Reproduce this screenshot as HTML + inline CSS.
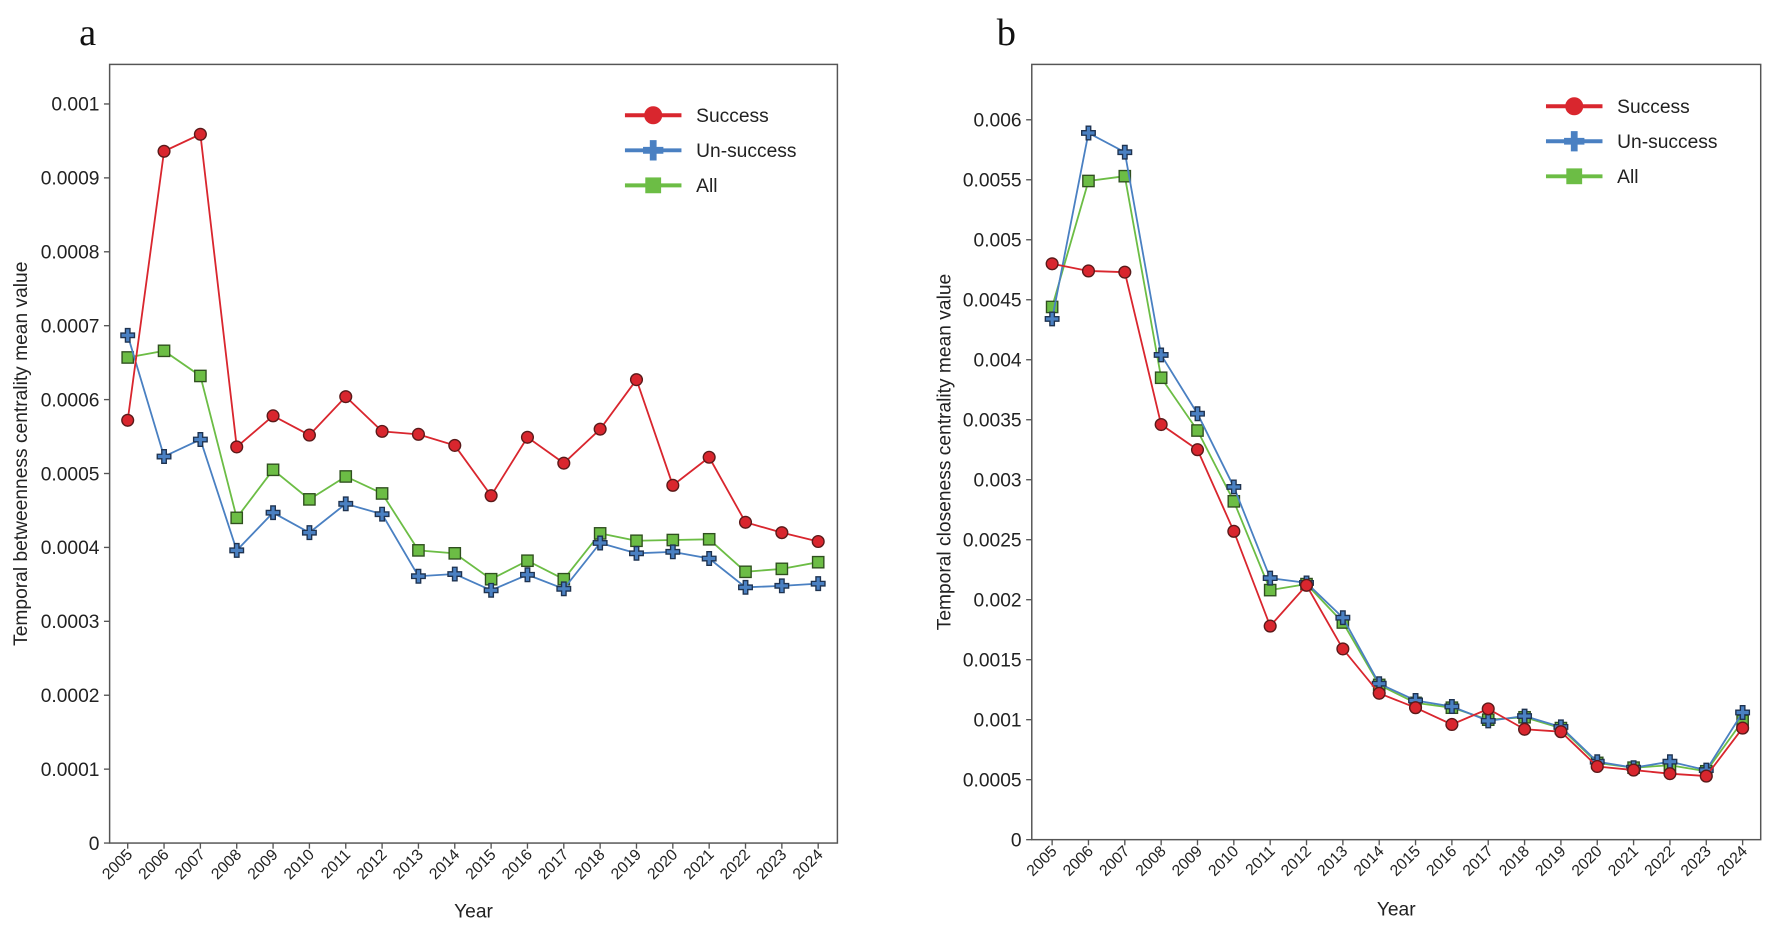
<!DOCTYPE html>
<html><head><meta charset="utf-8"><style>
html,body{margin:0;padding:0;background:#fff;}
svg{display:block;font-family:"Liberation Sans",Arial,sans-serif;}
</style></head><body>
<svg id="chart" width="1772" height="926" viewBox="0 0 1568 819.4" preserveAspectRatio="none" xmlns="http://www.w3.org/2000/svg"></svg>
<script>
const years=[2005,2006,2007,2008,2009,2010,2011,2012,2013,2014,2015,2016,2017,2018,2019,2020,2021,2022,2023,2024];
const aSuccess=[.000572,.000936,.000959,.000536,.000578,.000552,.000604,.000557,.000553,.000538,.000470,.000549,.000514,.000560,.000627,.000484,.000522,.000434,.000420,.000408];
const aUnsuccess=[.000687,.000523,.000546,.000396,.000447,.000420,.000459,.000445,.000361,.000364,.000342,.000363,.000344,.000406,.000392,.000394,.000385,.000346,.000348,.000351];
const aAll=[.000657,.000666,.000632,.000440,.000505,.000465,.000496,.000473,.000396,.000392,.000357,.000382,.000357,.000419,.000409,.000410,.000411,.000367,.000371,.000380];
const bSuccess=[0.0048,0.00474,0.00473,0.00346,0.00325,0.00257,0.00178,0.00212,0.00159,0.00122,0.0011,0.00096,0.00109,0.00092,0.0009,0.00061,0.00058,0.00055,0.00053,0.00093];
const bUnsuccess=[0.00434,0.00589,0.00573,0.00404,0.00355,0.00294,0.00218,0.00214,0.00185,0.0013,0.00116,0.00111,0.00099,0.00103,0.00094,0.00065,0.0006,0.00065,0.00058,0.00106];
const bAll=[0.00444,0.00549,0.00553,0.00385,0.00341,0.00282,0.00208,0.00213,0.00181,0.00129,0.00114,0.0011,0.001,0.00102,0.00093,0.00064,0.0006,0.00062,0.00057,0.00099];
const aTicks=["0","0.0001","0.0002","0.0003","0.0004","0.0005","0.0006","0.0007","0.0008","0.0009","0.001"];
const bTicks=["0","0.0005","0.001","0.0015","0.002","0.0025","0.003","0.0035","0.004","0.0045","0.005","0.0055","0.006"];
const legendLabels=["Success","Un-success","All"];

const svg=document.getElementById('chart');
const NS='http://www.w3.org/2000/svg';
function mk(tag,attrs,parent,text){const e=document.createElementNS(NS,tag);for(const k in attrs)e.setAttribute(k,attrs[k]);if(text!==undefined)e.textContent=text;(parent||svg).appendChild(e);return e;}
const RED='#d9262e',BLUE='#4a80c2',GREEN='#6cbd45';

function marker(g,type,x,y,color){
  let m;
  if(type==='circle'){m=mk('circle',{cx:x,cy:y,r:5.2,fill:color,stroke:'#5a1a1a','stroke-width':1.2},g);}
  else if(type==='square'){m=mk('rect',{x:x-5,y:y-5,width:10,height:10,fill:color,stroke:'#2f4f1f','stroke-width':1.2},g);}
  else {m=mk('path',{d:`M${x-2},${y-6}h4v4h4v4h-4v4h-4v-4h-4v-4h4z`,fill:color,stroke:'#1f3350','stroke-width':1.2},g);}
  return m;
}

function panel(cfg){
  const g=mk('g',{});
  
  
  const {L,R,T,B,x0,x1,ymax}=cfg;
  const xs=i=>x0+(x1-x0)*i/(years.length-1);
  const ys=v=>B-(B-cfg.y0)*v/ymax;
  const frame=mk('rect',{x:L,y:T,width:R-L,height:B-T,fill:'none',stroke:'#555','stroke-width':1.3},g);
  
  
  cfg.ticks.forEach((t,i)=>{
    const y=ys(parseFloat(t));
    mk('line',{x1:L-5,x2:L,y1:y,y2:y,stroke:'#555','stroke-width':1.2},g);
    const tl=mk('text',{x:L-9,y:y+6,'text-anchor':'end','font-size':17,fill:'#222'},g,t);
    
    
  });
  years.forEach((yr,i)=>{
    const x=xs(i);
    mk('line',{x1:x,x2:x,y1:B,y2:B+5,stroke:'#555','stroke-width':1.2},g);
    const tl=mk('text',{x:x+5,y:B+11,'text-anchor':'end','font-size':14,fill:'#222',transform:`rotate(-45 ${x+5} ${B+11})`},g,String(yr));
    
    
  });
  const xt=mk('text',{x:(L+R)/2,y:cfg.xTitleY,'text-anchor':'middle','font-size':17,fill:'#222'},g,'Year');
  
  
  const yt=mk('text',{x:0,y:0,'text-anchor':'middle','font-size':17,fill:'#222',transform:`translate(${cfg.yTitleX},${(T+B)/2}) rotate(-90)`},g,cfg.yTitle);
  
  
  const pl=mk('text',{x:cfg.letterX,y:40,'font-size':34,'font-family':'"Liberation Serif",serif',fill:'#111'},g,cfg.letter);
  
  
  const series=[[cfg.s,RED,'circle','success'],[cfg.u,BLUE,'plus','un-success'],[cfg.a,GREEN,'square','all']];
  const order=[2,1,0];
  order.forEach(k=>{
    const [vals,col,type,nm]=series[k];
    const sg=mk('g',{},g);
    
    
    const ln=mk('polyline',{points:vals.map((v,i)=>xs(i)+','+ys(v)).join(' '),fill:'none',stroke:col,'stroke-width':1.6},sg);
    
    
    vals.forEach((v,i)=>{const m=marker(sg,type,xs(i),ys(v),col);
      
      });
  });
  legendLabels.forEach((lab,k)=>{
    const y=cfg.legY+k*31, col=series[k][1];
    const lg=mk('g',{},g);
    
    
    mk('line',{x1:cfg.legX,x2:cfg.legX+50,y1:y,y2:y,stroke:col,'stroke-width':3.5},lg);
    if(series[k][2]==='circle')mk('circle',{cx:cfg.legX+25,cy:y,r:8,fill:col},lg);
    else if(series[k][2]==='square')mk('rect',{x:cfg.legX+18,y:y-7,width:14,height:14,fill:col},lg);
    else mk('path',{d:`M${cfg.legX+22},${y-9}h6v6h6v6h-6v6h-6v-6h-6v-6h6z`,fill:col},lg);
    mk('text',{x:cfg.legX+63,y:y+6,'font-size':17,fill:'#222'},lg,lab);
  });
}
panel({name:'panel-a',L:97,R:741,T:57,B:746,y0:92,x0:113,x1:724,ymax:0.001,ticks:aTicks,s:aSuccess,u:aUnsuccess,a:aAll,
  xTitleY:812,yTitleX:24,yTitle:'Temporal betweenness centrality mean value',letter:'a',letterX:70,legX:553,legY:102});
panel({name:'panel-b',L:913,R:1558,T:57,B:743,y0:106,x0:931,x1:1542,ymax:0.006,ticks:bTicks,s:bSuccess,u:bUnsuccess,a:bAll,
  xTitleY:810,yTitleX:841,yTitle:'Temporal closeness centrality mean value',letter:'b',letterX:882,legX:1368,legY:94});
</script>
</body></html>
